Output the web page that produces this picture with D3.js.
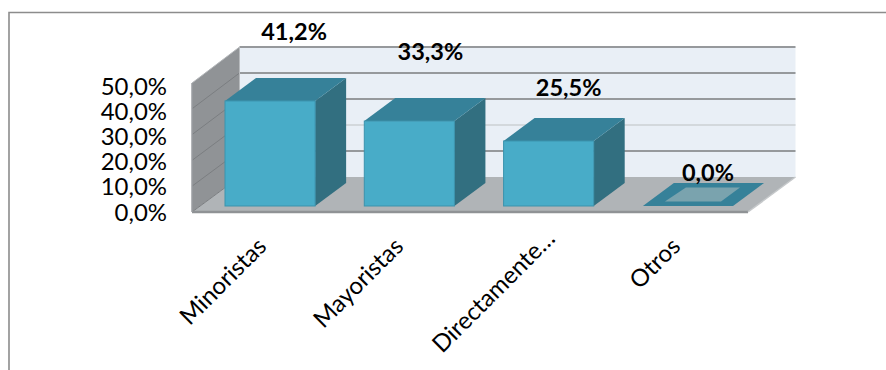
<!DOCTYPE html>
<html><head><meta charset="utf-8">
<script src="https://cdn.jsdelivr.net/npm/d3@7"></script>
<style>html,body{margin:0;padding:0;background:#fff}svg{display:block}text{font-family:Lato,"Open Sans",sans-serif;fill:#000}</style>
</head><body><svg id="c" width="886" height="370"></svg>
<script>
const categories = ["Minoristas","Mayoristas","Directamente…","Otros"];
const values = [41.2,33.3,25.5,0];
const valueLabels = ["41,2%","33,3%","25,5%","0,0%"];
const ticks = [0,10,20,30,40,50];

const svg = d3.select("#c");
const W = {x0:192,x1:748,floorY:212,dx:47.5,dy:-35};
const B = {dx:31,dy:-23,base:206,pxPer:2.55};
const x = d3.scaleBand().domain(categories).range([W.x0+33,W.x1-15]).paddingInner(0.353).paddingOuter(0);
const yWall = d3.scaleLinear().domain([0,50]).range([177,47]);
const yFront = d3.scaleLinear().domain([0,50]).range([W.floorY,83]);
const yLabel = d3.scaleLinear().domain([0,50]).range([212.5,87]);
const h = d3.scaleLinear().domain([0,50]).range([0,50*B.pxPer]);
const poly = p => p.map(q=>q.join(",")).join(" ");
const line = d3.line();

// frame
svg.append("path").attr("d","M9,370V12.5H886").attr("fill","none").attr("stroke","#8c8c8c").attr("stroke-width",1.6);

const scene = svg.append("g");
// back wall
scene.append("polygon").attr("fill","#e9eff6").attr("points",poly([[W.x0+W.dx,yWall(50)],[W.x1+W.dx,yWall(50)],[W.x1+W.dx,yWall(0)],[W.x0+W.dx,yWall(0)]]));
// left wall
scene.append("polygon").attr("fill","#909396").attr("points",poly([[W.x0,yFront(50)],[W.x0+W.dx,yWall(50)],[W.x0+W.dx,yWall(0)],[W.x0,yFront(0)]]));
// floor
scene.append("polygon").attr("fill","#b0b4b7").attr("points",poly([[W.x0,W.floorY],[W.x0+W.dx,yWall(0)],[W.x1+W.dx,yWall(0)],[W.x1,W.floorY]]));
// gridlines
const grid = ticks.filter(t=>t>0);
scene.selectAll(".g").data(grid).join("path")
  .attr("d",t=>line([[W.x0+W.dx,yWall(t)],[W.x1+W.dx,yWall(t)]]))
  .attr("fill","none").attr("stroke",t=>t===20?"#d3d8dc":"#96999c").attr("stroke-width",2);
scene.selectAll(".gl").data(grid.concat(0)).join("path")
  .attr("d",t=>line([[W.x0,yFront(t)],[W.x0+W.dx,yWall(t)]]))
  .attr("fill","none").attr("stroke",t=>t===50?"#b5b8bb":"#7b7e81").attr("stroke-width",1);
// floor edges
scene.append("path").attr("d",line([[W.x0,W.floorY],[W.x1,W.floorY]])).attr("fill","none").attr("stroke","#8f9295").attr("stroke-width",2.5);
scene.append("path").attr("d",line([[W.x1,W.floorY],[W.x1+W.dx,yWall(0)]])).attr("fill","none").attr("stroke","#c6c9cb").attr("stroke-width",1.5);
scene.append("path").attr("d",line([[W.x0,yFront(50)],[W.x0,W.floorY]])).attr("fill","none").attr("stroke","#9a9da0").attr("stroke-width",1.5);
scene.append("path").attr("d",line([[W.x0+W.dx,yWall(50)],[W.x0+W.dx,yWall(0)]])).attr("fill","none").attr("stroke","#b8bbbe").attr("stroke-width",1);

// bars
const bars = scene.selectAll(".b").data(categories.map((c,i)=>({c,v:values[i]}))).join("g");
bars.each(function(d){
  const g=d3.select(this), l=x(d.c), r=l+x.bandwidth(), b=B.base, t=b-h(d.v);
  if(d.v===0){
    g.append("polygon").attr("fill","#368199").attr("points",poly([[l,b],[r,b],[r+B.dx,b+B.dy],[l+B.dx,b+B.dy]]));
    const a=22,m=4.5;
    g.append("polygon").attr("fill","#7aa3ae").attr("points",poly([[l+a,b-m],[r-a+10,b-m],[r-a+B.dx-2,b+B.dy+m],[l+a+B.dx-10,b+B.dy+m]]));
    return;
  }
  g.append("polygon").attr("fill","#326f80").attr("points",poly([[r,t],[r+B.dx,t+B.dy],[r+B.dx,b+B.dy],[r,b]]));
  g.append("polygon").attr("fill","#368199").attr("points",poly([[l,t],[l+B.dx,t+B.dy],[r+B.dx,t+B.dy],[r,t]]));
  g.append("rect").attr("x",l).attr("y",t).attr("width",r-l).attr("height",b-t).attr("fill","#48acc8").attr("stroke","#3b93ad").attr("stroke-width",1);
});

// value axis
const ax = svg.append("g").attr("transform","translate(167,0) scale(1.02,1)").call(d3.axisLeft(yLabel).tickValues(ticks).tickSize(0).tickPadding(0).tickFormat(t=>d3.format(".1f")(t).replace(".",",")+"%"));
ax.select(".domain").remove();
ax.selectAll("text").attr("font-size",23.5).style("font-family","Lato,sans-serif").attr("fill","#000");

// data labels
const labelRise = [46,46,30,10];
const labelNudge = [3,0,-1,-1];
svg.selectAll(".v").data(valueLabels).join("text")
  .attr("transform",(d,i)=>`translate(${x(categories[i])+x.bandwidth()/2+B.dx-10+labelNudge[i]},${B.base-h(values[i])+B.dy-labelRise[i]}) scale(1.06,1)`)
  .attr("dy","0.35em").attr("text-anchor","middle")
  .attr("font-size",22.2).attr("font-weight",700).text(d=>d);

// category labels
const labelShift = [[-14,236],[-16.5,236],[-4,228],[-18,236]];
svg.selectAll(".c").data(categories).join("text")
  .attr("transform",(d,i)=>`translate(${x(d)+x.bandwidth()/2+labelShift[i][0]},${labelShift[i][1]}) rotate(-45)`)
  .attr("text-anchor","end").attr("dy","0.7em")
  .attr("font-size",24).text(d=>d);
</script></body></html>
